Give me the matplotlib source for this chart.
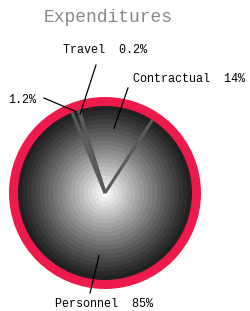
import numpy as np
import matplotlib.pyplot as plt
from matplotlib.patches import Circle

# data
labels = ["Contractual", "Travel", "", "Personnel"]
values = [14, 0.2, 1.2, 85]
pct_text = ["14%", "0.2%", "1.2%", "85%"]

W, H = 250, 311
fig = plt.figure(figsize=(W / 100, H / 100), dpi=100)
ax = fig.add_axes([0, 0, 1, 1])
ax.set_xlim(0, W)
ax.set_ylim(0, H)
ax.set_aspect("equal")
ax.axis("off")

cx, cy = 105, 118
r_ring = 96
r_pie = 87
start = 57.0

# red ring + shaded disc
ax.add_patch(Circle((cx, cy), r_ring, facecolor="#ed1a4b", edgecolor="none"))
n_bands = 20
for i in range(n_bands):
    r = r_pie * (1 - i / n_bands)
    g = 0.13 + 0.85 * (i / (n_bands - 1)) ** 1.1
    ax.add_patch(Circle((cx, cy), r, facecolor=(g, g, g), edgecolor="none"))

# wedge boundaries
fracs = np.array(values) / np.sum(values)
edges = start + np.concatenate([[0], np.cumsum(fracs)]) * 360
for a in edges[:-1]:
    t = np.radians(a)
    ax.plot([cx, cx + r_pie * np.cos(t)], [cy, cy + r_pie * np.sin(t)],
            color="#5a5a5a", lw=2.2, solid_capstyle="butt")

# labels with leader lines
mids = (edges[:-1] + edges[1:]) / 2
text_pos = [(133, 232), (63, 261), (8, 211), (55, 7)]
line_end = [(128, 223), (96, 246), (44, 213), (90, 18)]
line_r = [0.75, 0.95, 1.0, 0.72]
for i in range(len(values)):
    t = np.radians(mids[i])
    x0 = cx + r_pie * line_r[i] * np.cos(t)
    y0 = cy + r_pie * line_r[i] * np.sin(t)
    ax.plot([x0, line_end[i][0]], [y0, line_end[i][1]], color="black", lw=0.9)
    txt = (labels[i] + "  " + pct_text[i]).strip()
    ax.text(text_pos[i][0], text_pos[i][1], txt, family="Liberation Mono",
            fontsize=8.5, color="black", ha="left", va="center")

ax.text(108, 293, "Expenditures", family="Liberation Mono", fontsize=13,
        color="#8a8a8a", ha="center", va="center")

fig.savefig("out.png", dpi=100)
